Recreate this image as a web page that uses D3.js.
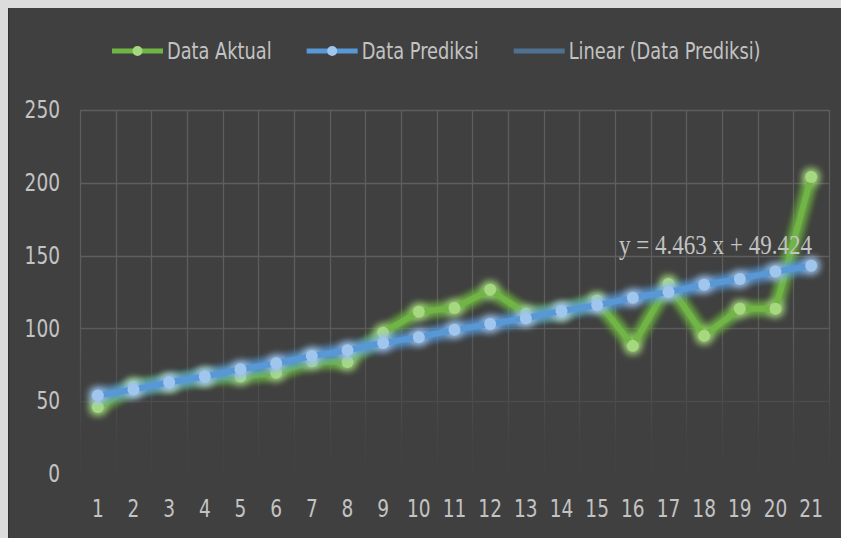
<!DOCTYPE html>
<html>
<head>
<meta charset="utf-8">
<script src="https://cdn.jsdelivr.net/npm/d3@7"></script>
<style>
  html, body { margin: 0; padding: 0; background: #dcdcdc; }
  svg { display: block; }
  .tick text { font-family: "Liberation Sans Narrow", "DejaVu Sans Condensed", sans-serif; fill: #c3c3c3; }
</style>
</head>
<body>
<svg id="chart" width="841" height="538"></svg>
<script>
var categories = ["1","2","3","4","5","6","7","8","9","10","11","12","13","14","15","16","17","18","19","20","21"];
var aktual   = [46, 60, 62.5, 66.5, 67, 69.5, 77.5, 77, 97, 111.5, 114, 126.5, 110, 111.5, 119, 88, 130.5, 95, 113.5, 113.5, 204];
var prediksi = [54, 58, 63, 67, 72, 76, 81, 85, 90, 94, 99, 103, 107, 112, 116, 121, 125, 130, 134, 139, 143];
var yTicks = [0, 50, 100, 150, 200, 250];
var seriesNames = ["Data Aktual", "Data Prediksi", "Linear (Data Prediksi)"];
var equationLabel = "y = 4.463 x + 49.424";

var squeeze = 0.86; // condensed look of the original font

var svg = d3.select("#chart");

// dark chart area, light strip at top/left like the screenshot
svg.append("rect").attr("x", 8).attr("y", 8).attr("width", 833).attr("height", 530).attr("fill", "#404040");
svg.append("line").attr("x1", 8.5).attr("x2", 8.5).attr("y1", 8).attr("y2", 538).attr("stroke", "#333").attr("stroke-width", 1);

var x = d3.scaleBand().domain(categories).range([80, 829]).padding(0);
var y = d3.scaleLinear().domain([0, 250]).range([474, 110]);

var defs = svg.append("defs");

// gridlines fade toward the bottom
var grad = defs.append("linearGradient").attr("id", "fade")
    .attr("gradientUnits", "userSpaceOnUse").attr("x1", 0).attr("x2", 0).attr("y1", 110).attr("y2", 474);
grad.append("stop").attr("offset", "0.55").attr("stop-color", "#fff").attr("stop-opacity", 1);
grad.append("stop").attr("offset", "0.9").attr("stop-color", "#fff").attr("stop-opacity", 0.15);
grad.append("stop").attr("offset", "1").attr("stop-color", "#fff").attr("stop-opacity", 0.05);
defs.append("mask").attr("id", "gridMask")
  .append("rect").attr("x", 0).attr("y", 0).attr("width", 841).attr("height", 538).attr("fill", "url(#fade)");

["glowGreen", "glowBlue"].forEach(function(id) {
  var f = defs.append("filter").attr("id", id).attr("x", "-20%").attr("y", "-20%").attr("width", "140%").attr("height", "140%");
  f.append("feGaussianBlur").attr("in", "SourceGraphic").attr("stdDeviation", 5).attr("result", "blur");
  var m = f.append("feMerge");
  m.append("feMergeNode").attr("in", "blur");
  m.append("feMergeNode").attr("in", "blur");
  m.append("feMergeNode").attr("in", "blur");
  m.append("feMergeNode").attr("in", "SourceGraphic");
});

var grid = svg.append("g").attr("mask", "url(#gridMask)").attr("stroke", "#5e5e5e").attr("stroke-width", 1.3);
grid.selectAll(".hg").data(yTicks).enter().append("line")
    .attr("x1", 80).attr("x2", 829)
    .attr("y1", function(d) { return Math.round(y(d)) + 0.5; })
    .attr("y2", function(d) { return Math.round(y(d)) + 0.5; });
var vx = categories.map(function(c) { return x(c); }).concat([x.range()[1]]);
grid.selectAll(".vg").data(vx).enter().append("line")
    .attr("x1", function(d) { return Math.round(d) + 0.5; })
    .attr("x2", function(d) { return Math.round(d) + 0.5; })
    .attr("y1", 110).attr("y2", 474);

// axes
var yAxis = svg.append("g").attr("transform", "translate(80,0)")
    .call(d3.axisLeft(y).tickValues(yTicks).tickSize(0).tickPadding(20));
yAxis.select(".domain").remove();
yAxis.selectAll("text").attr("font-size", 24)
    .attr("x", -20 / squeeze)
    .attr("transform", "scale(" + squeeze + ",1)");

var xAxis = svg.append("g").attr("transform", "translate(0,474)")
    .call(d3.axisBottom(x).tickSize(0).tickPadding(26));
xAxis.select(".domain").remove();
xAxis.selectAll("text").attr("font-size", 24)
    .attr("transform", "scale(" + squeeze + ",1)");

// trendline from least squares on the prediction series
var xs = categories.map(function(c) { return +c; });
var mx = d3.mean(xs), my = d3.mean(prediksi);
var slope = d3.sum(xs, function(v, i) { return (v - mx) * (prediksi[i] - my); }) / d3.sum(xs, function(v) { return (v - mx) * (v - mx); });
var icpt = my - slope * mx;
var c0 = categories[0], c1 = categories[categories.length - 1];
svg.append("line")
    .attr("x1", x(c0) + x.bandwidth() / 2).attr("x2", x(c1) + x.bandwidth() / 2)
    .attr("y1", y(icpt + slope * +c0)).attr("y2", y(icpt + slope * +c1))
    .attr("stroke", "#50708f").attr("stroke-width", 4);

var line = d3.line()
    .x(function(d, i) { return x(categories[i]) + x.bandwidth() / 2; })
    .y(function(d) { return y(d); });

function drawSeries(values, lineColor, dotColor, filterId) {
  var g = svg.append("g").attr("filter", "url(#" + filterId + ")");
  g.append("path").datum(values)
      .attr("d", line).attr("fill", "none")
      .attr("stroke", lineColor).attr("stroke-width", 6)
      .attr("stroke-linejoin", "round");
  g.selectAll("circle").data(values).enter().append("circle")
      .attr("cx", function(d, i) { return x(categories[i]) + x.bandwidth() / 2; })
      .attr("cy", function(d) { return y(d); })
      .attr("r", 6)
      .attr("fill", dotColor);
}
drawSeries(aktual, "#6fb544", "#a6d97f", "glowGreen");
drawSeries(prediksi, "#5898d6", "#a0c6ee", "glowBlue");

// trendline equation
svg.append("text")
    .attr("x", 619).attr("y", 254)
    .attr("font-family", "Liberation Serif, DejaVu Serif, serif")
    .attr("font-size", 27)
    .attr("fill", "#c3c3c3")
    .attr("textLength", 193).attr("lengthAdjust", "spacingAndGlyphs")
    .text(equationLabel);

// legend
var legendColors = ["#6fb544", "#5898d6", "#50708f"];
var legendDots = ["#a6d97f", "#a0c6ee", null];
var lx = 112;
seriesNames.forEach(function(name, i) {
  var g = svg.append("g").attr("transform", "translate(" + lx + ",51)");
  g.append("line").attr("x1", 0).attr("x2", 51).attr("y1", 0).attr("y2", 0)
      .attr("stroke", legendColors[i]).attr("stroke-width", 5);
  if (legendDots[i]) {
    g.append("circle").attr("cx", 25.5).attr("cy", 0).attr("r", 5).attr("fill", legendDots[i]);
  }
  var t = g.append("text")
      .attr("transform", "translate(55,7.5) scale(" + squeeze + ",1)")
      .attr("font-family", "Liberation Sans Narrow, DejaVu Sans Condensed, sans-serif")
      .attr("font-size", 23).attr("fill", "#c3c3c3")
      .text(name);
  lx += 55 + t.node().getComputedTextLength() * squeeze + 35;
});
</script>
</body>
</html>
